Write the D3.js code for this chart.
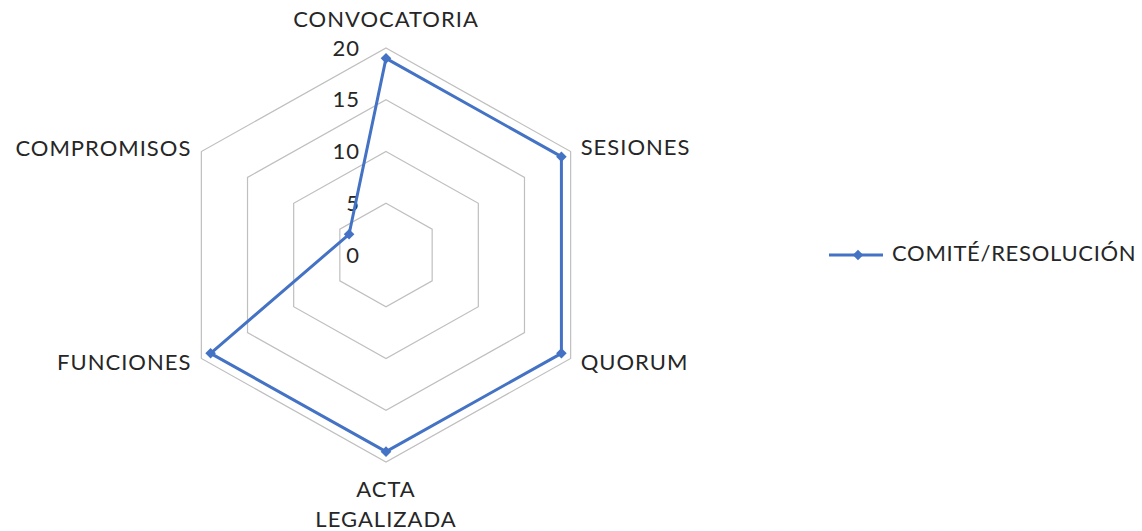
<!DOCTYPE html>
<html>
<head>
<meta charset="utf-8">
<script src="https://cdn.jsdelivr.net/npm/d3@7"></script>
<style>
  body { margin: 0; background: #fff; }
  text { font-family: Lato, "Open Sans", sans-serif; fill: #262626; font-size: 22px; letter-spacing: 1px; }
</style>
</head>
<body>
<svg id="chart"></svg>
<script>
var categories = ['CONVOCATORIA', 'SESIONES', 'QUORUM', 'ACTA LEGALIZADA', 'FUNCIONES', 'COMPROMISOS'];
var values = [19, 19, 19, 19, 19, 4];
var ticks = [0, 5, 10, 15, 20];
var seriesName = 'COMITÉ/RESOLUCIÓN';

var width = 1142, height = 531;
var cx = 386, cy = 255;
var R = 207;
var xStretch = 1.03; // excel draws the hexagon a bit wider than tall
var blue = '#4472C4';

var svg = d3.select('#chart').attr('width', width).attr('height', height);

var r = d3.scaleLinear().domain([0, 20]).range([0, R]);
var angle = d3.scaleLinear().domain([0, categories.length]).range([0, 2 * Math.PI]);

function pt(i, v) {
  var a = angle(i);
  return [cx + r(v) * Math.sin(a) * xStretch, cy - r(v) * Math.cos(a)];
}

var line = d3.line().curve(d3.curveLinearClosed);

// grid hexagons
svg.append('g').selectAll('path')
  .data(ticks.slice(1))
  .enter().append('path')
  .attr('d', function (t) { return line(categories.map(function (c, i) { return pt(i, t); })); })
  .attr('fill', 'none')
  .attr('stroke', '#bfbfbf')
  .attr('stroke-width', 1.2);

// tick labels
svg.append('g').selectAll('text')
  .data(ticks)
  .enter().append('text')
  .attr('x', cx - 26)
  .attr('y', function (t) { return cy - r(t) + 2; })
  .attr('text-anchor', 'end')
  .attr('dominant-baseline', 'middle')
  .text(function (t) { return t; });

// category labels
var labelPos = [
  { dx: 0, dy: -27, anchor: 'middle' },
  { dx: 10, dy: -2, anchor: 'start' },
  { dx: 10, dy: 6, anchor: 'start' },
  { dx: 0, dy: 29, anchor: 'middle' },
  { dx: -10, dy: 6, anchor: 'end' },
  { dx: -10, dy: -1, anchor: 'end' }
];
categories.forEach(function (c, i) {
  var p = pt(i, 20);
  var lp = labelPos[i];
  var words = i == 3 ? c.split(' ') : [c];
  var t = svg.append('text')
    .attr('text-anchor', lp.anchor);
  words.forEach(function (w, k) {
    t.append('tspan')
      .attr('x', p[0] + lp.dx)
      .attr('y', p[1] + lp.dy + k * 30)
      .attr('dominant-baseline', 'middle')
      .text(w);
  });
});

// series
var pts = values.map(function (v, i) { return pt(i, v); });
svg.append('path')
  .attr('d', line(pts))
  .attr('fill', 'none')
  .attr('stroke', blue)
  .attr('stroke-width', 3)
  .attr('stroke-linejoin', 'round');

// diamond marker = rotated square
var marker = d3.symbol().type(d3.symbolSquare).size(56);
svg.append('g').selectAll('path')
  .data(pts)
  .enter().append('path')
  .attr('transform', function (d) { return 'translate(' + d[0] + ',' + d[1] + ') rotate(45)'; })
  .attr('d', marker)
  .attr('fill', blue);

// legend
var lg = svg.append('g').attr('transform', 'translate(829,255)');
lg.append('line').attr('x1', 0).attr('x2', 54).attr('y1', 0).attr('y2', 0)
  .attr('stroke', blue).attr('stroke-width', 3);
lg.append('path').attr('transform', 'translate(29,0) rotate(45)').attr('d', marker).attr('fill', blue);
lg.append('text').attr('x', 63).attr('y', 0)
  .attr('dominant-baseline', 'middle')
  .style('letter-spacing', '0.7px')
  .text(seriesName);
</script>
</body>
</html>
